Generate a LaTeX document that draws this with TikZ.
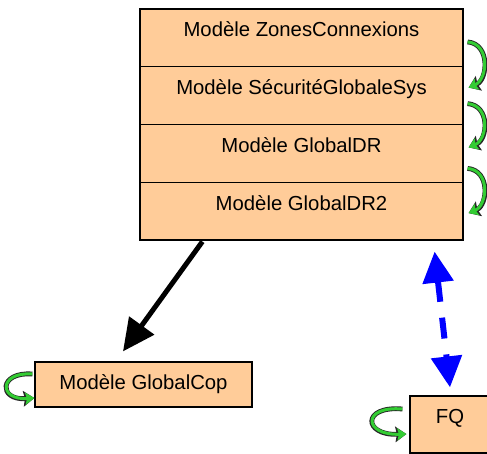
\documentclass[tikz,border=0pt]{standalone}
\usepackage{fontspec}
\setmainfont{Liberation Sans}
\usetikzlibrary{arrows.meta,calc}
\definecolor{peach}{HTML}{FFCC99}
\definecolor{loopgreen}{HTML}{33CC33}
\begin{document}
\begin{tikzpicture}[x=1pt,y=-1pt,
  band/.style={draw=black, line width=1.2pt, fill=peach, inner sep=0pt,
    minimum width=323pt, minimum height=57.75pt, text height=10pt, text depth=12pt,
    font=\fontsize{20.3}{24}\selectfont},
  plainbox/.style={draw=black, line width=1.2pt, fill=peach, inner sep=0pt,
    font=\fontsize{20.3}{24}\selectfont},
  selfloop/.style={line width=3pt, draw=loopgreen, -{Stealth[length=9pt,width=12pt,inset=1.5pt]},
    preaction={draw=black!85, line width=4.8pt, -{Stealth[length=11pt,width=15.5pt,inset=1.5pt]}}},
  bigarrow/.style={line width=5pt, draw=black, -{Triangle[length=32pt,width=30pt]}},
  blueptr/.style={line width=6pt, draw=blue, dash pattern=on 21pt off 16pt,
    {Triangle[length=31pt,width=30pt]}-{Triangle[length=31pt,width=30pt]}}
]
\useasboundingbox (0,0) rectangle (487,453);
% stack
\node[band] (zc)  at (301.5,37.9)  {Modèle ZonesConnexions};
\node[band] (sec) at (301.5,95.6)  {Modèle SécuritéGlobaleSys};
\node[band] (dr)  at (301.5,153.4) {Modèle GlobalDR};
\node[band] (dr2) at (301.5,211.1) {Modèle GlobalDR2};
% other boxes
\node[plainbox, minimum width=217pt, minimum height=45pt] (cop) at (143.5,384.5) {Modèle GlobalCop};
\node[plainbox, minimum width=80pt, minimum height=57pt, text height=10pt, text depth=12pt] (fq) at (450,424.5) {FQ};
% self loops on the right of the stack
\draw[selfloop] ($(zc.east)+(4,4)$) .. controls ($(zc.east)+(27,6)$) and ($(sec.east)+(24,-16)$) .. ($(sec.east)+(5,-8)$);
\draw[selfloop] ($(sec.east)+(4,8)$) .. controls ($(sec.east)+(27,10)$) and ($(dr.east)+(24,-14)$) .. ($(dr.east)+(5,-6)$);
\draw[selfloop] ($(dr.east)+(4,15)$) .. controls ($(dr.east)+(27,17)$) and ($(dr2.east)+(24,-6)$) .. ($(dr2.east)+(5,2)$);
% self loops on the left of GlobalCop and FQ
\draw[selfloop] ($(cop.west)+(-2,-10.5)$) .. controls ($(cop.west)+(-36,-13)$) and ($(cop.west)+(-36,16)$) .. ($(cop.west)+(0,13.5)$);
\draw[selfloop] ($(fq.west)+(-7,-15.5)$) .. controls ($(fq.west)+(-48,-19)$) and ($(fq.west)+(-46,11)$) .. ($(fq.west)+(-3,9.5)$);
% black arrow
\draw[bigarrow] ($(dr2.south west)+(63,1)$) -- ($(cop.north)+(-20.5,-10)$);
% blue dashed double arrow
\draw[blueptr] ($(dr2.south east)+(-29,11)$) -- ($(fq.north)+(0,-8)$);
\end{tikzpicture}
\end{document}
